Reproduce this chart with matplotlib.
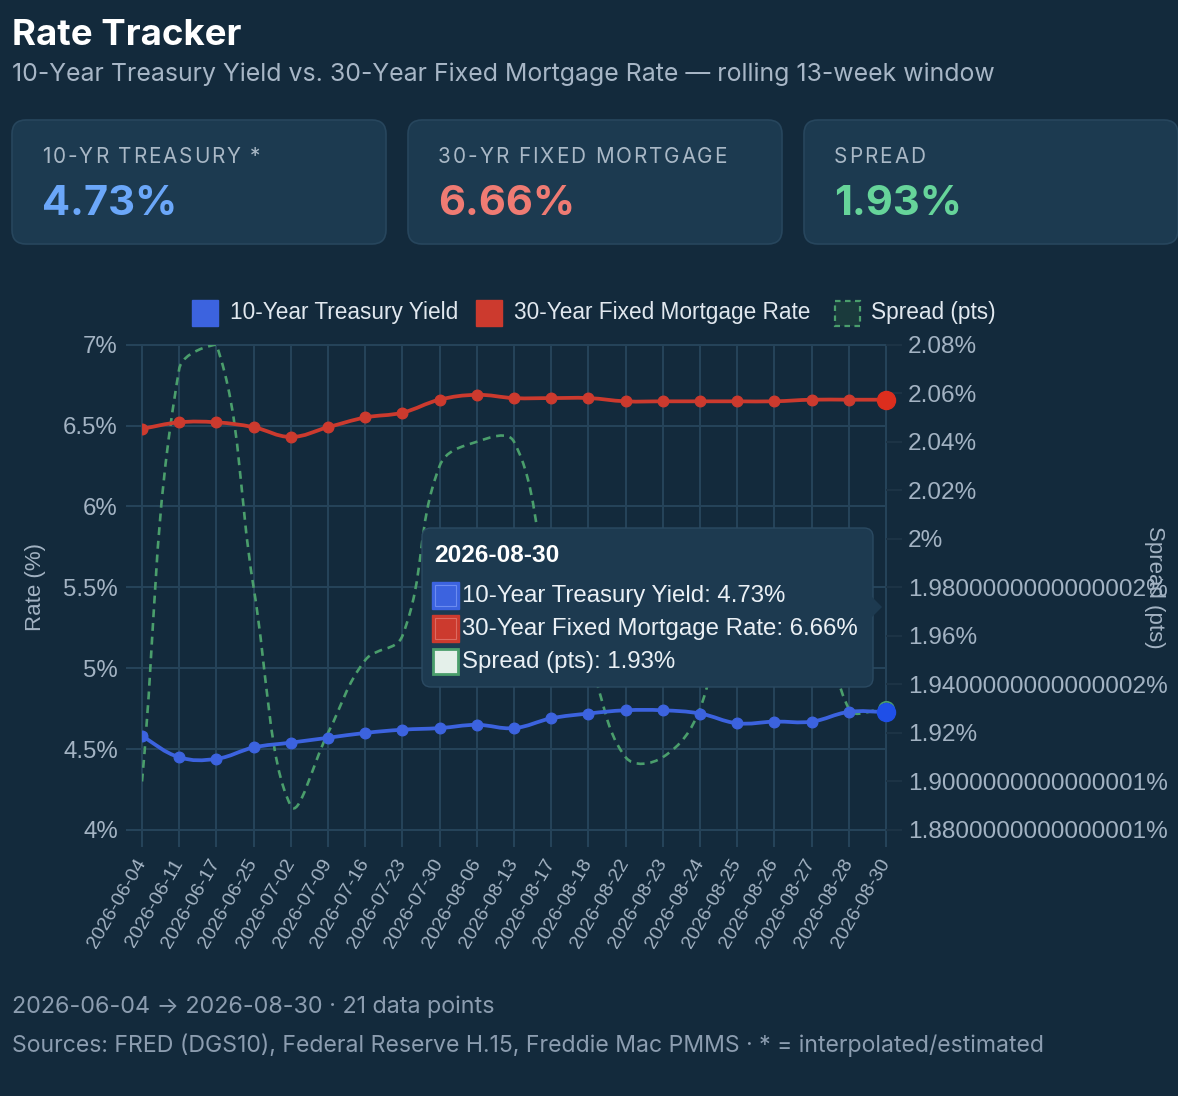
# Rate Tracker - treasury vs mortgage with spread on a second axis
import numpy as np
import matplotlib.pyplot as plt
from matplotlib.patches import FancyBboxPatch, Rectangle, PathPatch, Polygon
from matplotlib.path import Path

plt.rcParams['font.family'] = ['Liberation Sans', 'DejaVu Sans']

dates = ["2026-06-04", "2026-06-11", "2026-06-17", "2026-06-25", "2026-07-02",
         "2026-07-09", "2026-07-16", "2026-07-23", "2026-07-30", "2026-08-06",
         "2026-08-13", "2026-08-17", "2026-08-18", "2026-08-22", "2026-08-23",
         "2026-08-24", "2026-08-25", "2026-08-26", "2026-08-27", "2026-08-28",
         "2026-08-30"]
treasury = [4.58, 4.45, 4.44, 4.51, 4.54, 4.57, 4.60, 4.62, 4.63, 4.65, 4.63,
            4.69, 4.72, 4.74, 4.74, 4.72, 4.66, 4.67, 4.67, 4.73, 4.73]
mortgage = [6.48, 6.52, 6.52, 6.49, 6.43, 6.49, 6.55, 6.58, 6.66, 6.69, 6.67,
            6.67, 6.67, 6.65, 6.65, 6.65, 6.65, 6.65, 6.66, 6.66, 6.66]
spread = [1.90, 2.07, 2.08, 1.98, 1.89, 1.92, 1.95, 1.96, 2.03, 2.04, 2.04,
          1.98, 1.95, 1.91, 1.91, 1.93, 1.99, 1.98, 1.99, 1.93, 1.93]

rate_ticks = [4, 4.5, 5, 5.5, 6, 6.5, 7]
rate_labels = ["4%", "4.5%", "5%", "5.5%", "6%", "6.5%", "7%"]
spread_ticks = [1.88, 1.90, 1.92, 1.94, 1.96, 1.98, 2.00, 2.02, 2.04, 2.06, 2.08]
spread_labels = ["1.8800000000000001%", "1.9000000000000001%", "1.92%",
                 "1.9400000000000002%", "1.96%", "1.9800000000000002%", "2%",
                 "2.02%", "2.04%", "2.06%", "2.08%"]

BG = "#132a3c"
CARD = "#1c3a50"
CARD_EDGE = "#27465d"
GRID = "#26445a"
TICK = "#a3b3c3"
BLUE = "#3c63df"
RED = "#cc3a2e"
GREEN = "#4a9e6c"

W, H = 1178, 1096
fig = plt.figure(figsize=(W / 100, H / 100), dpi=100)
fig.patch.set_facecolor(BG)


def spline_path(ys, sx, sy, ylo, yhi, t=0.4):
    # same control points as a chart.js tension curve, in pixel space
    n = len(ys)
    xs = np.arange(n, dtype=float)
    ys = np.array(ys, dtype=float)
    px, py = xs * sx, ys * sy
    cprev, cnext = [], []
    for i in range(n):
        a = max(i - 1, 0)
        b = min(i + 1, n - 1)
        d01 = np.hypot(px[i] - px[a], py[i] - py[a])
        d12 = np.hypot(px[b] - px[i], py[b] - py[i])
        tot = d01 + d12
        s01 = d01 / tot if tot else 0
        s12 = d12 / tot if tot else 0
        fa, fb = t * s01, t * s12
        dx, dy = px[b] - px[a], py[b] - py[a]
        cprev.append((px[i] - fa * dx, py[i] - fa * dy))
        cnext.append((px[i] + fb * dx, py[i] + fb * dy))

    def back(p):
        x = min(max(p[0] / sx, 0), n - 1)
        y = min(max(p[1] / sy, ylo), yhi)
        return (x, y)

    verts = [(xs[0], ys[0])]
    codes = [Path.MOVETO]
    for i in range(n - 1):
        verts += [back(cnext[i]), back(cprev[i + 1]), (xs[i + 1], ys[i + 1])]
        codes += [Path.CURVE4] * 3
    return Path(verts, codes)


# chart area
ax = fig.add_axes([142 / W, 1 - 830 / H, 744 / W, 485.3 / H])
ax.set_facecolor(BG)
ax2 = ax.twinx()

x = np.arange(len(dates))
px_x = 744 / (len(dates) - 1)
px_rate = 485.3 / 3
px_spread = 485.3 / 0.2

# spread under the two rate lines
sp = spline_path(spread, px_x, px_spread, 1.88, 2.08)
ax2.add_patch(PathPatch(sp, fill=False, edgecolor=GREEN, lw=1.9,
                        linestyle=(0, (3.0, 2.2)), zorder=2))
ax2.plot([x[-1]], [spread[-1]], 'o', ms=11, mfc=BG, mec=GREEN, mew=1.3,
         zorder=3, clip_on=False)

for vals, col, big in [(mortgage, RED, "#dc2e1e"), (treasury, BLUE, "#1f4fe8")]:
    path = spline_path(vals, px_x, px_rate, 4, 7)
    ax2.add_patch(PathPatch(path, fill=False, edgecolor=col, lw=2.7,
                            transform=ax.transData, zorder=4))
    ax2.plot(x[:-1], vals[:-1], 'o', ms=7.6, color=col, transform=ax.transData,
             zorder=5)
    ax2.plot([x[-1]], [vals[-1]], 'o', ms=13, color=big, transform=ax.transData,
             zorder=6, clip_on=False)

ax.set_xlim(0, len(dates) - 1)
ax.set_ylim(4, 7)
ax2.set_ylim(1.88, 2.08)

ax.set_xticks(x)
ax.set_xticklabels(dates, rotation=60, ha='right', va='center',
                   rotation_mode='anchor', fontsize=14, color=TICK)
ax.set_yticks(rate_ticks)
ax.set_yticklabels(rate_labels, fontsize=17.3, color=TICK)
ax2.set_yticks(spread_ticks)
ax2.set_yticklabels(spread_labels, fontsize=17.6, color=TICK)

ax.grid(True, color=GRID, lw=1.4)
ax.set_axisbelow(True)
ax.tick_params(axis='x', length=12.2, width=1.4, color=GRID, pad=9.4)
ax.tick_params(axis='y', length=11.5, width=1.4, color=GRID, pad=5.8)
ax2.tick_params(axis='y', length=11.5, width=1.4, color="#1d3446", pad=4.3)
for s in ax.spines.values():
    s.set_color(GRID)
    s.set_linewidth(1.4)
for s in ax2.spines.values():
    s.set_visible(False)

# overlay in pixel coordinates for the html-ish parts
ov = fig.add_axes([0, 0, 1, 1], zorder=10)
ov.set_xlim(0, W)
ov.set_ylim(H, 0)
ov.axis('off')
renderer = fig.canvas.get_renderer()

head = ['Inter', 'DejaVu Sans']


def text_width(s, **kw):
    t = ov.text(0, 0, s, **kw)
    w = t.get_window_extent(renderer).width
    t.remove()
    return w


def spaced_text(x0, y0, s, spacing, **kw):
    # letter-spaced label, one char at a time
    base = text_width("I", **kw)
    for i, ch in enumerate(s):
        off = text_width(s[:i] + "I", **kw) - base if i else 0
        ov.text(x0 + off + i * spacing, y0, ch, **kw)


ov.text(12, 45, "Rate Tracker", fontsize=26.4, fontweight='bold', color="white",
        family=head)
ov.text(12, 81, "10-Year Treasury Yield vs. 30-Year Fixed Mortgage Rate \u2014 rolling 13-week window",
        fontsize=17.9, color="#a7b6c6", family=head)

cards = [("10-YR TREASURY *", treasury[-1], "#6ba7f9"),
         ("30-YR FIXED MORTGAGE", mortgage[-1], "#ef7b73"),
         ("SPREAD", spread[-1], "#66d49a")]
card_x = [12, 408, 804]
for (lab, val, col), cx in zip(cards, card_x):
    ov.add_patch(FancyBboxPatch((cx, 120), 374, 124,
                                boxstyle="round,pad=0,rounding_size=14",
                                fc=CARD, ec=CARD_EDGE, lw=1.2))
    spaced_text(cx + 30, 163, lab, 1.9, fontsize=14.9, color="#a9b8c6",
                family=head)
    ov.text(cx + 30, 215, f"{val:.2f}%", fontsize=30, fontweight='bold',
            color=col, family=head)

# legend
ov.add_patch(Rectangle((192, 300), 26, 26, fc=BLUE, ec=BLUE))
ov.text(230, 313, "10-Year Treasury Yield", fontsize=16.3, color="#e1e8ef",
        va='center')
ov.add_patch(Rectangle((476, 300), 26, 26, fc=RED, ec=RED))
ov.text(514, 313, "30-Year Fixed Mortgage Rate", fontsize=16.3, color="#e1e8ef",
        va='center')
ov.add_patch(Rectangle((835, 301), 25, 25, fc="#1a3a3c", ec=GREEN, lw=1.6,
                       linestyle=(0, (2.5, 2.0))))
ov.text(871, 313, "Spread (pts)", fontsize=16.3, color="#e1e8ef", va='center')

# axis titles
ov.text(35, 587, "Rate (%)", fontsize=16, color=TICK, rotation=90,
        ha='center', va='center')
ov.text(1154, 587, "Spread (pts)", fontsize=16, color=TICK, rotation=270,
        ha='center', va='center')

# tooltip for the last point
ov.add_patch(FancyBboxPatch((422, 528), 451, 159,
                            boxstyle="round,pad=0,rounding_size=9",
                            fc="#1d3a50", ec="#2b4a62", lw=1.0))
ov.add_patch(Polygon([(872, 597), (882, 607), (872, 617)], closed=True,
                     fc="#1d3a50", ec="none"))
ov.text(434, 562, dates[-1], fontsize=17.6, fontweight='bold', color="white")
rows = [("10-Year Treasury Yield", treasury[-1], BLUE, "#6c8cf0"),
        ("30-Year Fixed Mortgage Rate", mortgage[-1], RED, "#dd6a60"),
        ("Spread (pts)", spread[-1], "#e4f0ea", GREEN)]
for k, (name, val, fc, ec) in enumerate(rows):
    cy = 595 + k * 33
    if k < 2:
        ov.add_patch(Rectangle((432, cy - 13), 27, 27, fc=fc, ec=fc))
        ov.add_patch(Rectangle((435, cy - 10), 21, 21, fc="none", ec=ec, lw=0.8))
    else:
        ov.add_patch(Rectangle((433, cy - 12), 25, 25, fc=fc, ec=ec, lw=2.0))
    ov.text(462, cy + 1, f"{name}: {val:.2f}%", fontsize=17.3, color="#eaf0f5",
            va='center')

# footer
ov.text(12, 1013, f"{dates[0]} \u2192 {dates[-1]} \u00b7 {len(dates)} data points",
        fontsize=16.8, color="#8c9db0", family=head)
ov.text(12, 1052, "Sources: FRED (DGS10), Federal Reserve H.15, Freddie Mac PMMS \u00b7 * = interpolated/estimated",
        fontsize=16.6, color="#8c9db0", family=head)

fig.savefig("out.png", dpi=100, facecolor=BG)
